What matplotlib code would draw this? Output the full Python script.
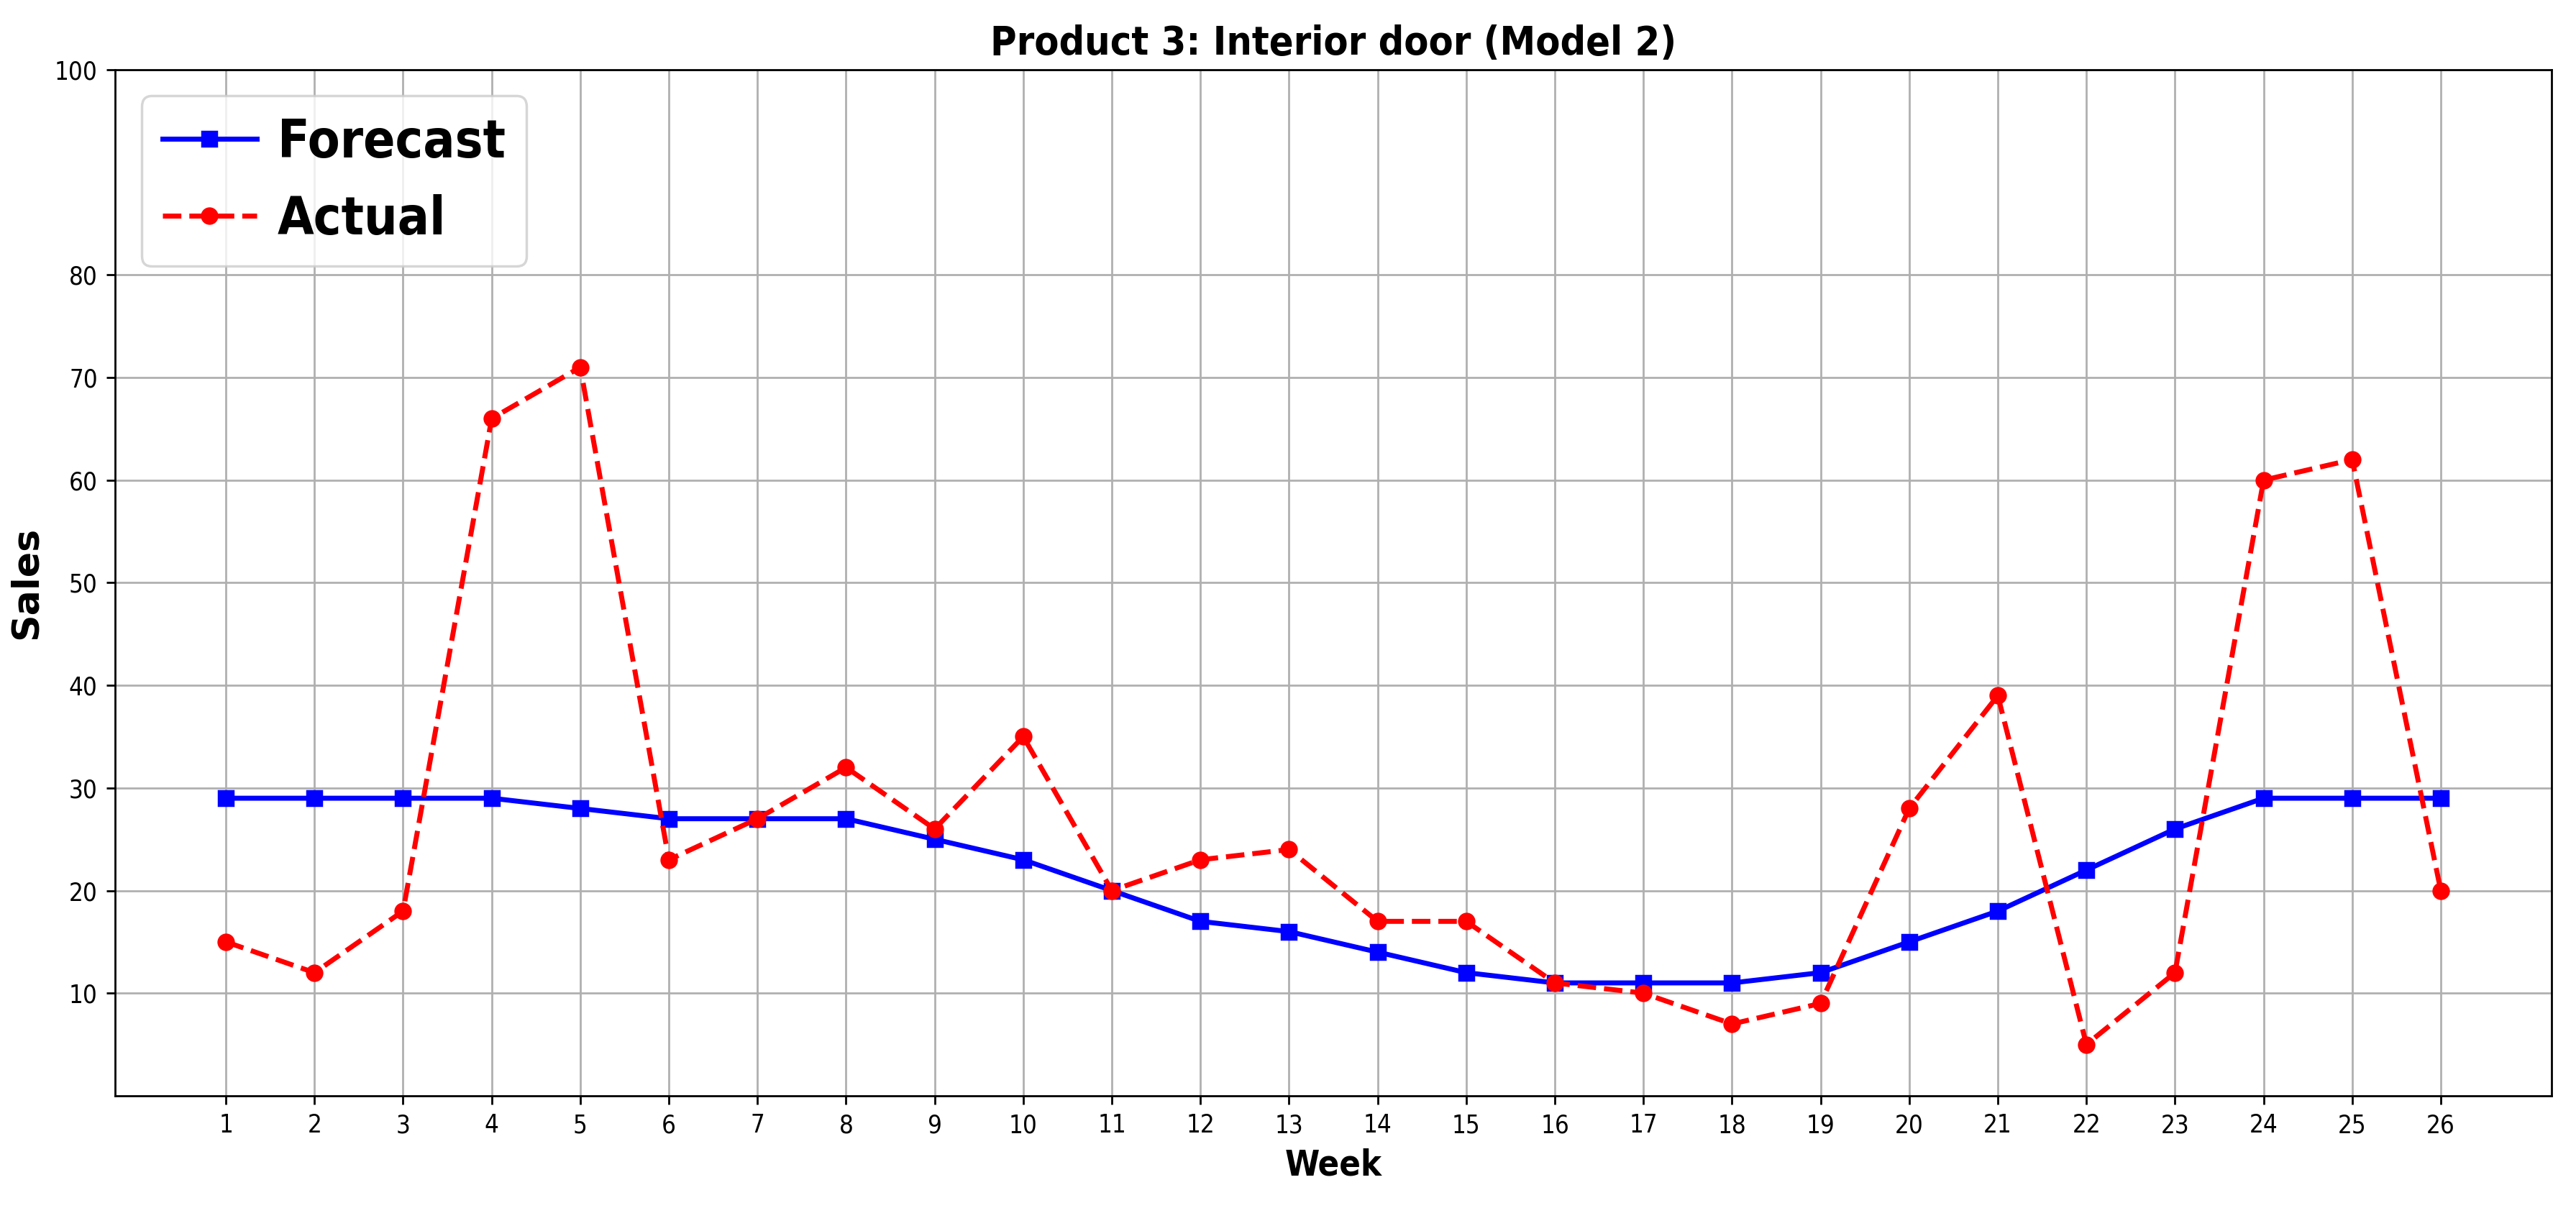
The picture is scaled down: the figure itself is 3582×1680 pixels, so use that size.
import numpy as np
import matplotlib.pyplot as plt

plt.rcParams['font.family'] = ['DejaVu Sans']
plt.rcParams['font.stretch'] = 'condensed'

semanas = list(range(1, 27))
forecast = [29, 29, 29, 29, 28, 27, 27, 27, 25, 23, 20, 17, 16, 14, 12, 11, 11, 11, 12, 15, 18, 22, 26, 29, 29, 29]
actual = [15, 12, 18, 66, 71, 23, 27, 32, 26, 35, 20, 23, 24, 17, 17, 11, 10, 7, 9, 28, 39, 5, 12, 60, 62, 20]
yticks = [10, 20, 30, 40, 50, 60, 70, 80, 100]

fig, ax = plt.subplots(figsize=(14.328, 6.72), dpi=250)
fig.subplots_adjust(left=0.0447, right=0.9905, top=0.9423, bottom=0.0929)

ax.plot(semanas, forecast, color='blue', marker='s', linestyle='-', linewidth=2, markersize=6, label='Forecast')
ax.plot(semanas, actual, color='red', marker='o', linestyle='--', linewidth=2, markersize=6, label='Actual')

ax.set_xticks(semanas)
ax.set_yticks(yticks)
ax.set_ylim(0, 100)
ax.grid(True)

ax.set_title("Product 3: Interior door (Model 2)", fontsize=16, fontweight='bold')
ax.set_xlabel("Week", fontsize=14, fontweight='bold')
ax.set_ylabel("Sales", fontsize=15, fontweight='bold', fontstretch='normal')
ax.legend(loc='upper left', prop={'size': 21, 'weight': 'bold', 'stretch': 'condensed'},
          handlelength=1.8, handletextpad=0.4)

plt.savefig("out.png", dpi=250)
